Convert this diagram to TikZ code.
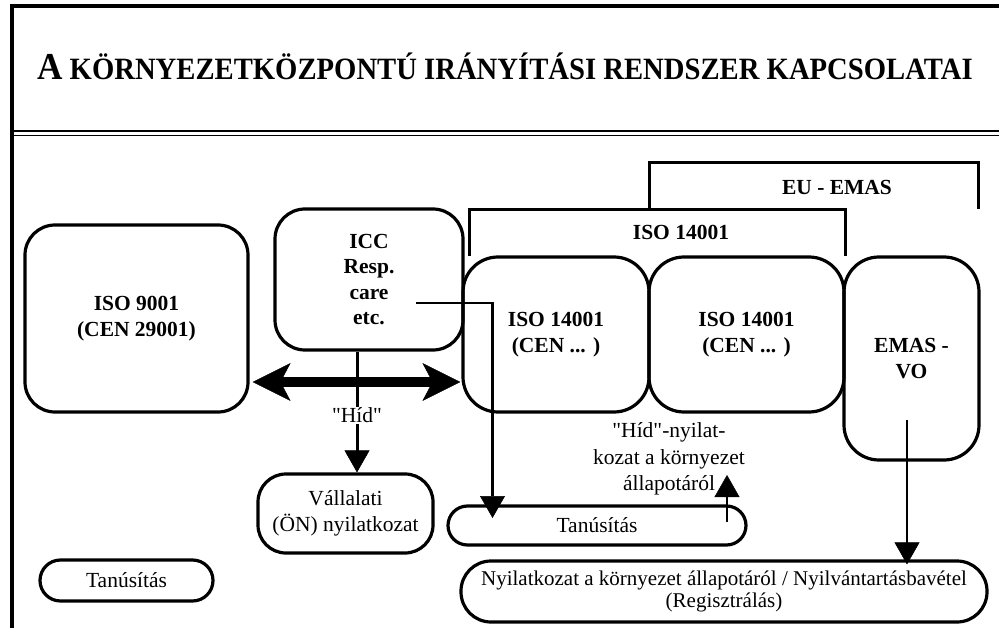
\documentclass[tikz,border=0pt]{standalone}
\usepackage{fontspec}
\setmainfont{Liberation Serif}
\usetikzlibrary{arrows.meta}

\begin{document}
\begin{tikzpicture}[x=1pt,y=-1pt,
  box/.style={draw, line width=3.2pt, rounded corners=#1, inner sep=0pt,
    align=center, font=\bfseries\fontsize{21.5}{25.5}\selectfont},
  pill/.style={draw, line width=3.2pt, rounded corners=#1, inner sep=0pt,
    align=center, font=\fontsize{21.5}{25.5}\selectfont},
  bracketline/.style={line width=3pt, line join=miter},
  conn/.style={line width=2.8pt},
  tipdown/.style={-{Triangle[length=22pt,width=25pt,line width=0.5pt]}},
  dblarrow/.style={line width=10pt,
    {Stealth[length=38pt,width=38pt,inset=10pt,line width=0.5pt]}-{Stealth[length=38pt,width=38pt,inset=10pt,line width=0.5pt]}},
  plain/.style={font=\fontsize{21.5}{26.5}\selectfont, align=center, inner sep=1pt},
  heading/.style={font=\bfseries\fontsize{21.5}{25}\selectfont, inner sep=0pt}]
\useasboundingbox (0,0) rectangle (999,628);

% outer frame and title rule
\draw[line width=3.5pt] (12,640) -- (12,6) -- (1010,6);
\draw[line width=1.6pt] (12,131) -- (1010,131);
\draw[line width=1.6pt] (12,135.5) -- (1010,135.5);

% title, in bold small capitals
\node[anchor=base, inner sep=0pt] (title) at (505,80)
  {\scalebox{0.925}[1]{\bfseries\fontsize{38}{40}\selectfont A\fontsize{31}{33}\selectfont\ KÖRNYEZETKÖZPONTÚ\ IRÁNYÍTÁSI\ RENDSZER\ KAPCSOLATAI}};

% boxes
\node[box=30pt, minimum width=223pt, minimum height=187pt] (iso9001) at (136.5,318.5) {ISO 9001\\(CEN 29001)};
\node[box=30pt, minimum width=188pt, minimum height=141pt] (icc) at (369,279.5) {ICC\\Resp.\\care\\etc.};
\node[box=35pt, minimum width=186pt, minimum height=155pt] (iso1) at (556,334.5) {ISO 14001\\(CEN ... )};
\node[box=35pt, minimum width=195pt, minimum height=155pt] (iso2) at (746.5,334.5) {ISO 14001\\(CEN ... )};
\node[box=35pt, minimum width=135pt, minimum height=203pt, text depth=0pt] (emas) at (911.5,358.5) {EMAS -\\VO};
\node[pill=28pt, minimum width=175pt, minimum height=79pt] (vall) at (345.5,513.5) {Vállalati\\(ÖN) nyilatkozat};
\node[pill=20.5pt, minimum width=173pt, minimum height=41pt] (tan1) at (126.5,580.5) {Tanúsítás};
\node[pill=19.5pt, minimum width=298pt, minimum height=39pt] (tan2) at (597,525.5) {Tanúsítás};
\node[pill=30pt, minimum width=526pt, minimum height=61pt, font=\fontsize{21}{22}\selectfont] (nyil) at (724,591.5)
  {Nyilatkozat a környezet állapotáról / Nyilvántartásbavétel\\(Regisztrálás)};

% scope brackets
\draw[bracketline] (469,256) -- (469,210) -- (845,210) -- (845,256);
\node[heading] (isolabel) at (681,232) {ISO 14001};
\draw[bracketline] (649,210) -- (649,163) -- (978,163) -- (978,209);
\node[heading] (emaslabel) at (837,187) {EU - EMAS};

% bridge between the quality and environmental systems
\coordinate (dbly) at (0,382);
\draw[dblarrow] ([xshift=3pt]iso9001.east |- dbly) -- ([xshift=-1pt]iso1.west |- dbly);

% ICC towards the company declaration
\coordinate (hidx) at (357,0);
\draw[line width=3pt, tipdown] (icc.south -| hidx) --
  node[pos=0.53, plain, fill=white] (hidlabel) {\textquotedbl Híd\textquotedbl} (vall.north -| hidx);

% ICC towards certification
\coordinate (iccout) at (416,303);
\coordinate (tanin) at (492.5,518);
\draw[conn, tipdown] (iccout) -| (tanin);

% certification to the bridge statement
\coordinate (tanup) at (727,522);
\coordinate (tanuptip) at (727,475);
\draw[conn, tipdown] (tanup) -- (tanuptip);
\node[plain] (hidstmt) at (669,459)
  {\textquotedbl Híd\textquotedbl-nyilat-\\kozat a környezet\\állapotáról};

% EMAS regulation to registration
\coordinate (emasout) at (907,420);
\draw[conn, tipdown] (emasout) -- ([yshift=-5pt]nyil.north -| emasout);
\end{tikzpicture}
\end{document}
